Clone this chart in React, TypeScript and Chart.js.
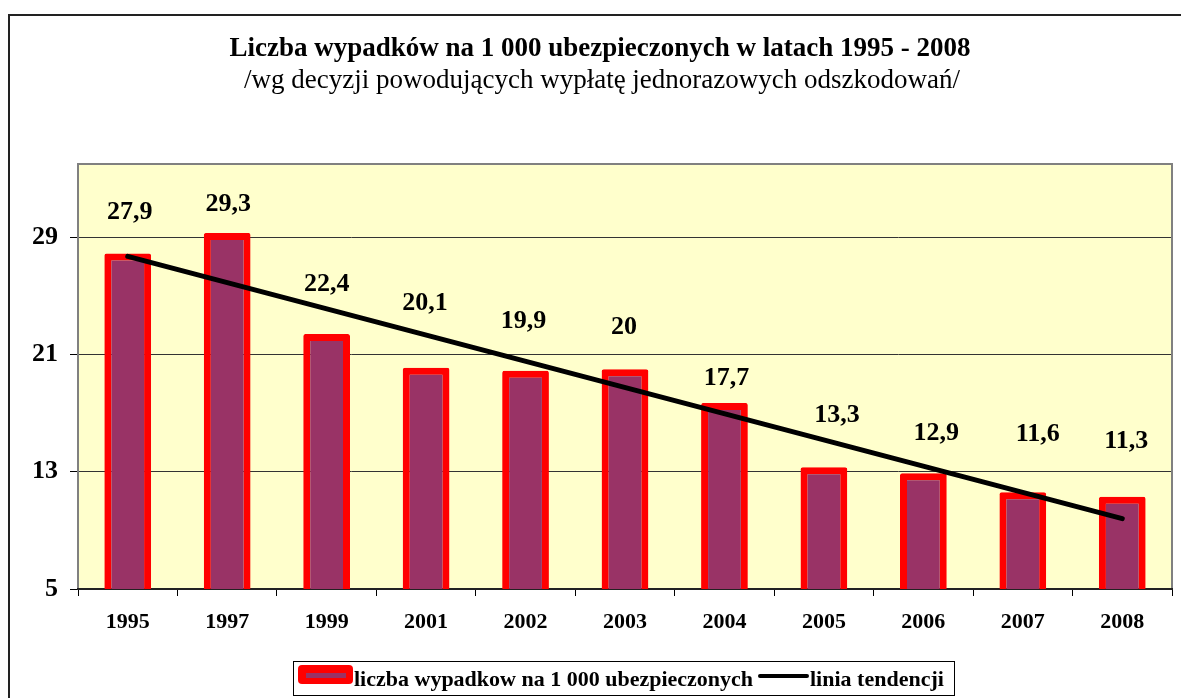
import React, { useEffect, useRef } from "react";
import { Chart, registerables } from "chart.js";

Chart.register(...registerables);

const categories = ["1995", "1997", "1999", "2001", "2002", "2003", "2004", "2005", "2006", "2007", "2008"];
const accidents = [27.9, 29.3, 22.4, 20.1, 19.9, 20, 17.7, 13.3, 12.9, 11.6, 11.3];
const trend = [27.7, null, null, null, null, null, null, null, null, null, 9.8];
const yTicks = [5, 13, 21, 29];
const valueLabels = ["27,9", "29,3", "22,4", "20,1", "19,9", "20", "17,7", "13,3", "12,9", "11,6", "11,3"];

const titleText = "Liczba wypadków na 1 000 ubezpieczonych w latach 1995 - 2008";
const subtitleText = "/wg decyzji powodujących wypłatę jednorazowych odszkodowań/";
const barLabel = "liczba wypadkow na 1 000 ubezpieczonych";
const trendLabel = "linia tendencji";

// label placement (px) relative to each bar's value point, as in the reference
const labelDx = [2, 1, 0, -1, -2, -1, 2, 13, 13, 15, 4];
const labelDy = [41, 29, 50, 64, 49, 42, 25, 52, 40, 58, 55];

const FONT = '"Liberation Serif", "Times New Roman", serif';

const decorPlugin = {
  id: "decor",
  beforeDraw(chart: any) {
    const { ctx, chartArea: a } = chart;
    ctx.save();
    ctx.fillStyle = "#ffffff";
    ctx.fillRect(0, 0, chart.width, chart.height);
    // outer frame
    ctx.strokeStyle = "#222222";
    ctx.lineWidth = 2;
    ctx.beginPath();
    ctx.moveTo(9, chart.height + 2);
    ctx.lineTo(9, 15);
    ctx.lineTo(chart.width + 2, 15);
    ctx.stroke();
    // plot background
    ctx.fillStyle = "#FFFFCC";
    ctx.fillRect(a.left, a.top, a.right - a.left, a.bottom - a.top);
    ctx.restore();
  },
  beforeDatasetsDraw(chart: any) {
    const { ctx, chartArea: a } = chart;
    ctx.save();
    ctx.strokeStyle = "#808080";
    ctx.lineWidth = 2;
    ctx.strokeRect(a.left, a.top, a.right - a.left, a.bottom - a.top);
    ctx.strokeStyle = "#222222";
    ctx.beginPath();
    ctx.moveTo(a.left - 1, a.bottom);
    ctx.lineTo(a.right + 1, a.bottom);
    ctx.stroke();
    ctx.restore();
  },
  afterDraw(chart: any) {
    const { ctx } = chart;
    ctx.save();
    // titles
    ctx.fillStyle = "#000";
    ctx.textAlign = "center";
    ctx.textBaseline = "middle";
    ctx.font = `bold 27px ${FONT}`;
    ctx.fillText(titleText, 600, 49);
    ctx.font = `27px ${FONT}`;
    ctx.fillText(subtitleText, 602, 81);

    // value labels
    const meta = chart.getDatasetMeta(0);
    const ys = chart.scales.y;
    ctx.font = `bold 26px ${FONT}`;
    meta.data.forEach((bar: any, i: number) => {
      const y = ys.getPixelForValue(accidents[i]);
      ctx.fillText(valueLabels[i], bar.x + labelDx[i], y - labelDy[i]);
    });

    // legend
    ctx.strokeStyle = "#000";
    ctx.lineWidth = 1;
    ctx.strokeRect(293.5, 661.5, 661, 34);
    // bar swatch
    ctx.fillStyle = "#FF0000";
    ctx.beginPath();
    (ctx as any).roundRect(298, 665, 55, 19, 4);
    ctx.fill();
    ctx.fillStyle = "#993366";
    ctx.fillRect(306, 673, 40, 5);
    ctx.fillStyle = "#000";
    ctx.textAlign = "left";
    ctx.textBaseline = "alphabetic";
    ctx.font = `bold 22px ${FONT}`;
    ctx.fillText(barLabel, 354, 686);
    // line swatch
    ctx.strokeStyle = "#000";
    ctx.lineWidth = 4;
    ctx.lineCap = "round";
    ctx.beginPath();
    ctx.moveTo(760, 676);
    ctx.lineTo(807, 676);
    ctx.stroke();
    ctx.fillText(trendLabel, 810, 686);
    ctx.restore();
  },
};

export default function App() {
  const ref = useRef<HTMLCanvasElement | null>(null);
  useEffect(() => {
    if (!ref.current) return;
    const chart = new Chart(ref.current, {
      type: "bar",
      data: {
        labels: categories,
        datasets: [
          {
            type: "bar",
            label: barLabel,
            data: accidents,
            backgroundColor: "#993366",
            borderColor: "#FF0000",
            borderWidth: 7,
            borderSkipped: false,
            borderRadius: 2,
            barPercentage: 0.47,
            categoryPercentage: 1,
            order: 2,
          },
          {
            type: "line",
            label: trendLabel,
            data: trend as any,
            borderColor: "#000000",
            borderWidth: 5,
            borderCapStyle: "round",
            pointRadius: 0,
            spanGaps: true,
            fill: false,
            order: 1,
          } as any,
        ],
      },
      options: {
        responsive: false,
        animation: false,
        layout: { padding: { left: 0, top: 164, right: 9, bottom: 0 } },
        plugins: {
          legend: { display: false },
          title: { display: false },
          tooltip: { enabled: false },
        },
        scales: {
          x: {
            grid: {
              offset: true,
              drawOnChartArea: false,
              drawTicks: true,
              tickLength: 7,
              tickColor: "#000",
              lineWidth: 1,
            },
            border: { display: false },
            ticks: {
              color: "#000",
              font: { family: FONT, size: 22, weight: "bold" },
              padding: 13,
            },
            afterFit(scale: any) {
              scale.height = 109;
            },
          },
          y: {
            min: 5,
            max: 34,
            afterBuildTicks(axis: any) {
              axis.ticks = yTicks.map((v) => ({ value: v }));
            },
            grid: {
              color: "#333333",
              lineWidth: 1,
              drawTicks: true,
              tickLength: 8,
              tickColor: "#000",
            },
            border: { display: false },
            ticks: {
              color: "#000",
              font: { family: FONT, size: 26, weight: "bold" },
              padding: 12,
            },
            afterFit(scale: any) {
              scale.width = 78;
            },
          },
        },
      },
      plugins: [decorPlugin],
    });
    return () => chart.destroy();
  }, []);
  return (
    <div style={{ position: "absolute", left: 0, top: 0, width: 1181, height: 698 }}>
      <canvas ref={ref} width={1181} height={698} style={{ width: 1181, height: 698, display: "block" }} />
    </div>
  );
}
